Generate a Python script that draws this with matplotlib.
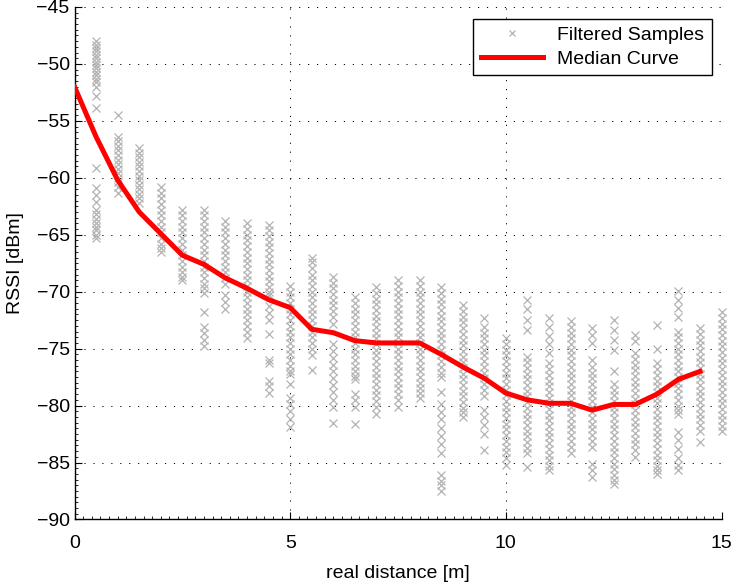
import numpy as np
import matplotlib
matplotlib.use("Agg")
import matplotlib.pyplot as plt
from matplotlib.ticker import MultipleLocator

# median curve (dBm) at every half metre
median_dist = [0, 0.5, 1, 1.5, 2, 2.5, 3, 3.5, 4, 4.5, 5, 5.5, 6, 6.5, 7, 7.5,
               8, 8.5, 9, 9.5, 10, 10.5, 11, 11.5, 12, 12.5, 13, 13.5, 14, 14.5]
median_rssi = [-52.0, -56.4, -60.2, -63.0, -64.9, -66.8, -67.6, -68.8, -69.7, -70.7,
               -71.4, -73.3, -73.6, -74.3, -74.5, -74.5, -74.5, -75.5, -76.6, -77.6,
               -78.9, -79.5, -79.8, -79.8, -80.4, -79.9, -79.9, -79.0, -77.7, -77.0]

# filtered samples, one list per measured distance
sample_dist = [0.5, 1, 1.5, 2, 2.5, 3, 3.5, 4, 4.5, 5, 5.5, 6, 6.5, 7, 7.5,
               8, 8.5, 9, 9.5, 10, 10.5, 11, 11.5, 12, 12.5, 13, 13.5, 14, 14.5, 15]
s_0_5 = [-48.0, -48.3, -48.6, -48.9, -49.2, -49.5, -49.8, -50.1, -50.4, -50.7, -51.0, -51.3,
         -51.6, -52.0, -52.8, -53.9, -59.1, -60.9, -61.5, -62.1, -62.8, -63.2, -63.6, -64.0,
         -64.3, -64.6, -65.0, -65.3]
s_1 = [-54.5, -56.4, -56.8, -57.2, -57.6, -58.0, -58.4, -58.8, -59.2, -59.6, -60.0, -60.4,
       -60.8, -61.3]
s_1_5 = [-57.4, -57.8, -58.2, -58.6, -59.0, -59.4, -59.8, -60.2, -60.6, -61.0, -61.4, -61.8, -62.2]
s_2 = [-60.8, -61.3, -61.8, -62.3, -62.8, -63.3, -63.8, -64.3, -64.8, -65.3, -65.8, -66.2, -66.5]
s_2_5 = [-62.8, -63.3, -63.8, -64.3, -64.8, -65.3, -65.8, -66.3, -66.8, -67.3, -67.8, -68.3,
         -68.7, -69.0]
s_3 = [-62.8, -63.3, -63.8, -64.3, -64.8, -65.3, -65.8, -66.3, -66.8, -67.3, -67.8, -68.3,
       -68.8, -69.3, -69.7, -70.1, -71.8, -73.1, -73.6, -74.2, -74.8]
s_3_5 = [-63.8, -64.3, -64.8, -65.3, -65.8, -66.3, -66.8, -67.3, -67.8, -68.3, -68.8, -69.3,
         -70.3, -70.9, -71.5]
s_4 = [-64.0, -64.5, -65.0, -65.5, -66.0, -66.5, -67.0, -67.5, -68.0, -68.5, -69.0, -69.5,
       -70.0, -70.5, -71.0, -71.5, -72.0, -72.5, -73.0, -73.5, -74.1]
s_4_5 = [-64.1, -64.6, -65.1, -65.6, -66.1, -66.6, -67.1, -67.6, -68.1, -68.6, -69.1, -69.6,
         -70.0, -70.3, -71.3, -71.9, -72.5, -73.7, -76.0, -76.3, -77.8, -78.3, -78.9]
s_5 = [-69.5, -70.0, -70.5, -71.0, -71.5, -72.0, -72.5, -73.0, -73.5, -74.0, -74.5, -75.0,
       -75.5, -76.0, -76.5, -77.0, -77.2, -78.1, -79.3, -79.9, -80.5, -81.2, -81.9]
s_5_5 = [-67.0, -67.4, -67.9, -68.5, -69.0, -69.5, -70.0, -70.5, -71.0, -71.5, -72.0, -72.5,
         -73.0, -73.5, -74.0, -74.5, -75.0, -75.6, -76.9]
s_6 = [-68.7, -69.2, -69.7, -70.2, -70.7, -71.2, -71.7, -72.2, -72.8, -74.6, -75.2, -75.8,
       -76.4, -77.0, -77.6, -78.2, -78.8, -79.5, -80.1, -81.5]
s_6_5 = [-70.5, -71.0, -71.5, -72.0, -72.5, -73.0, -73.5, -74.0, -74.5, -75.0, -75.5, -76.0,
         -76.5, -77.0, -77.4, -77.7, -79.0, -79.5, -80.1, -81.6]
s_7 = [-69.6, -70.1, -70.6, -71.1, -71.6, -72.1, -72.6, -73.1, -73.6, -74.1, -74.6, -75.1,
       -75.6, -76.1, -76.6, -77.1, -77.6, -78.1, -78.6, -79.1, -79.6, -80.1, -80.7]
s_7_5 = [-69.0, -69.5, -70.0, -70.5, -71.0, -71.5, -72.0, -72.5, -73.0, -73.5, -74.0, -74.5,
         -75.0, -75.5, -76.0, -76.5, -77.0, -77.5, -78.0, -78.5, -79.0, -79.5, -80.1]
s_8 = [-69.0, -69.5, -70.0, -70.5, -71.0, -71.5, -72.0, -72.5, -73.0, -73.5, -74.0, -74.5,
       -75.0, -75.5, -76.0, -76.5, -77.0, -77.5, -78.0, -78.5, -78.9, -79.3]
s_8_5 = [-69.6, -70.1, -70.6, -71.1, -71.6, -72.1, -72.6, -73.1, -73.6, -74.1, -74.6, -75.1,
         -75.6, -76.1, -76.6, -77.1, -77.5, -78.8, -79.9, -80.6, -81.2, -82.0, -82.7, -83.4,
         -84.2, -86.1, -86.6, -87.0, -87.5]
s_9 = [-71.2, -71.7, -72.2, -72.7, -73.2, -73.7, -74.2, -74.7, -75.2, -75.7, -76.2, -76.7,
       -77.2, -77.7, -78.2, -78.7, -79.2, -79.7, -80.2, -80.6, -81.0]
s_9_5 = [-72.3, -73.1, -73.6, -74.1, -74.6, -75.1, -75.6, -76.1, -76.6, -77.1, -77.6, -78.1,
         -78.6, -79.2, -80.4, -81.0, -81.7, -82.5, -83.9]
s_10 = [-74.1, -74.6, -75.1, -75.6, -76.1, -76.6, -77.1, -77.6, -78.1, -78.6, -79.1, -79.6,
        -80.1, -80.6, -81.1, -81.6, -82.1, -82.6, -83.1, -83.6, -84.1, -84.6, -85.2]
s_10_5 = [-70.7, -71.5, -72.5, -73.4, -75.7, -76.2, -76.7, -77.2, -77.7, -78.2, -78.7, -79.2,
          -79.7, -80.2, -80.7, -81.2, -81.7, -82.2, -82.7, -83.2, -83.7, -84.2, -85.4]
s_11 = [-72.3, -73.1, -73.9, -74.6, -75.4, -76.3, -76.8, -77.3, -77.8, -78.3, -78.8, -79.3,
        -79.8, -80.3, -80.8, -81.3, -81.8, -82.3, -82.8, -83.3, -83.8, -84.3, -84.8, -85.3, -85.7]
s_11_5 = [-72.6, -73.1, -73.6, -74.1, -74.6, -75.1, -75.6, -76.1, -76.6, -77.1, -77.6, -78.1,
          -78.6, -79.1, -79.6, -80.1, -80.6, -81.1, -81.6, -82.1, -82.6, -83.1, -83.6, -84.2]
s_12 = [-73.2, -73.8, -74.5, -76.0, -76.6, -77.1, -77.6, -78.1, -78.6, -79.1, -79.6, -80.1,
        -80.6, -81.1, -81.6, -82.1, -82.6, -83.1, -83.6, -85.1, -85.7, -86.3]
s_12_5 = [-72.5, -73.4, -74.2, -75.1, -77.0, -78.1, -78.6, -79.1, -79.6, -80.1, -80.6, -81.1,
          -81.6, -82.1, -82.6, -83.1, -83.6, -84.1, -84.6, -85.1, -85.6, -86.1, -86.5, -86.9]
s_13 = [-73.8, -74.3, -75.4, -75.9, -76.4, -76.9, -77.4, -77.9, -78.4, -78.9, -79.4, -79.9,
        -80.4, -80.9, -81.4, -81.9, -82.4, -82.9, -83.4, -83.9, -84.5]
s_13_5 = [-72.9, -75.0, -76.3, -76.8, -77.3, -77.8, -78.3, -78.8, -79.3, -79.8, -80.3, -80.8,
          -81.3, -81.8, -82.3, -82.8, -83.3, -83.8, -84.3, -84.8, -85.3, -85.7, -86.0]
s_14 = [-69.9, -70.7, -71.4, -72.2, -73.5, -74.0, -74.5, -75.0, -75.5, -76.0, -76.5, -77.0,
        -77.5, -78.0, -78.5, -79.0, -79.5, -80.0, -80.4, -80.7, -82.3, -83.0, -83.8, -84.6,
        -85.2, -85.7]
s_14_5 = [-73.2, -73.7, -74.2, -74.7, -75.2, -75.7, -76.2, -76.7, -77.2, -77.7, -78.2, -78.7,
          -79.2, -79.7, -80.2, -80.7, -81.2, -81.7, -82.2, -83.2]
s_15 = [-71.8, -72.3, -72.8, -73.3, -73.8, -74.3, -74.8, -75.3, -75.8, -76.3, -76.8, -77.3,
        -77.8, -78.3, -78.8, -79.3, -79.8, -80.3, -80.8, -81.3, -81.8, -82.2]

samples = [s_0_5, s_1, s_1_5, s_2, s_2_5, s_3, s_3_5, s_4, s_4_5, s_5, s_5_5, s_6, s_6_5,
           s_7, s_7_5, s_8, s_8_5, s_9, s_9_5, s_10, s_10_5, s_11, s_11_5, s_12, s_12_5,
           s_13, s_13_5, s_14, s_14_5, s_15]

plt.rcParams['font.family'] = ['Liberation Sans', 'DejaVu Sans']
plt.rcParams['font.size'] = 14

fig = plt.figure(figsize=(7.32, 5.83), dpi=100)
ax = fig.add_axes([0.1018, 0.109, 0.8839, 0.879])

xs = np.concatenate([[d] * len(v) for d, v in zip(sample_dist, samples)])
ys = np.concatenate(samples)
ax.plot(xs, ys, 'x', color='#b3b3b3', markersize=5.5, markeredgewidth=0.9,
        label='Filtered Samples', clip_on=False, zorder=2)
ax.plot(median_dist, median_rssi, '-', color='#ff0000', linewidth=3.6,
        label='Median Curve', zorder=3)

ax.set_xlim(0, 15)
ax.set_ylim(-90, -45)
ax.xaxis.set_major_locator(MultipleLocator(5))
ax.yaxis.set_major_locator(MultipleLocator(5))
ax.xaxis.set_minor_locator(MultipleLocator(0.2))
ax.yaxis.set_minor_locator(MultipleLocator(0.5))
ax.tick_params(which='both', direction='in', colors='black')
ax.tick_params(which='major', length=5, width=0.8)
ax.tick_params(which='minor', length=2.5, width=0.6)
ax.tick_params(axis='x', pad=11.5)

for side in ['top', 'right']:
    ax.spines[side].set_visible(False)
for side in ['left', 'bottom']:
    ax.spines[side].set_linewidth(1.0)

ax.grid(True, which='major', color='black', linestyle=(0, (1.2, 8)), linewidth=0.7)
ax.set_axisbelow(True)

ax.set_xlabel('real distance [m]', labelpad=9)
ax.set_ylabel('RSSI [dBm]', labelpad=9)

leg = ax.legend(loc='upper right', bbox_to_anchor=(0.985, 0.977), borderaxespad=0,
                fancybox=False, edgecolor='black', framealpha=1, handlelength=3.2,
                handletextpad=0.7, labelspacing=0.3, borderpad=0.4, markerscale=0.8)
leg.get_frame().set_linewidth(1.0)

fig.savefig('out.png', dpi=100)
